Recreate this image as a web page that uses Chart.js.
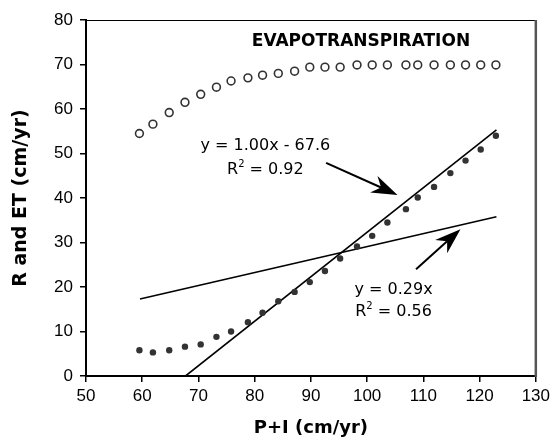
<!DOCTYPE html>
<html lang="en">
<head>
<meta charset="UTF-8" />
<title>Evapotranspiration vs P+I</title>
<script src="https://cdn.jsdelivr.net/npm/chart.js"></script>
<style>
  html, body { margin: 0; padding: 0; background: #fff; }
  #wrap { width: 554px; height: 439px; }
</style>
</head>
<body>
<div id="wrap"><canvas id="chart"></canvas></div>
<script>
// P+I (cm/yr) for each simulation point
const pi = [59.5, 61.9, 64.8, 67.6, 70.4, 73.2, 75.8, 78.8, 81.4, 84.2, 87.1, 89.8,
            92.5, 95.2, 98.2, 100.9, 103.6, 106.9, 109.0, 111.9, 114.8, 117.5, 120.2, 122.9];
// evapotranspiration (open circles)
const et = [54.5, 56.6, 59.2, 61.5, 63.3, 64.9, 66.3, 67.0, 67.6, 68.0, 68.5, 69.4,
            69.4, 69.4, 69.9, 69.9, 69.9, 69.9, 69.9, 69.9, 69.9, 69.9, 69.9, 69.9];
// recharge (filled dots)
const r = [5.8, 5.3, 5.8, 6.6, 7.1, 8.8, 10.0, 12.1, 14.2, 16.8, 18.9, 21.1,
           23.6, 26.4, 29.1, 31.5, 34.5, 37.5, 40.1, 42.5, 45.6, 48.4, 50.9, 54.0];
// fitted lines, end points
const fitSteep = [[67.7, 0], [123, 55.3]];
const fitFlat = [[59.6, 17.3], [123, 35.8]];
const xTicks = [50, 60, 70, 80, 90, 100, 110, 120, 130];
const yTicks = [0, 10, 20, 30, 40, 50, 60, 70, 80];

// annotations in data units
const heading = { text: 'EVAPOTRANSPIRATION', x: 98.9, y: 75.1 };
const equations = [
  { eq: 'y = 1.00x - 67.6', r2: '0.92', x: 81.9, y: 51.7, y2: 46.3 },
  { eq: 'y = 0.29x', r2: '0.56', x: 104.7, y: 19.3, y2: 14.4 }
];
const arrows = [
  { from: [92.7, 47.9], to: [105.4, 40.7] },
  { from: [108.7, 24.0], to: [116.6, 33.0] }
];

const toPts = (xs, ys) => xs.map((v, i) => ({ x: v, y: ys[i] }));
const pairPts = p => p.map(([x, y]) => ({ x, y }));

Chart.defaults.font.family = "'DejaVu Sans', sans-serif";
Chart.defaults.color = '#000';

function drawArrow(ctx, x0, y0, x1, y1) {
  const a = Math.atan2(y1 - y0, x1 - x0);
  const c = Math.cos(a), s = Math.sin(a);
  const len = 26, half = 9, notch = 18;
  ctx.beginPath();
  ctx.moveTo(x0, y0);
  ctx.lineTo(x1 - notch * c, y1 - notch * s);
  ctx.stroke();
  const bx = x1 - len * c, by = y1 - len * s;
  ctx.beginPath();
  ctx.moveTo(x1, y1);
  ctx.lineTo(bx - half * s, by + half * c);
  ctx.lineTo(x1 - notch * c, y1 - notch * s);
  ctx.lineTo(bx + half * s, by - half * c);
  ctx.closePath();
  ctx.fill();
}

function drawR2(ctx, value, cx, cy) {
  const big = '16px "DejaVu Sans"', small = '10px "DejaVu Sans"';
  const rest = ' = ' + value;
  ctx.font = big;
  const wR = ctx.measureText('R').width, wRest = ctx.measureText(rest).width;
  ctx.font = small;
  const w2 = ctx.measureText('2').width;
  let x = cx - (wR + w2 + wRest) / 2;
  ctx.textAlign = 'left';
  ctx.textBaseline = 'middle';
  ctx.font = big;
  ctx.fillText('R', x, cy);
  x += wR;
  ctx.font = small;
  ctx.fillText('2', x, cy - 6);
  x += w2;
  ctx.font = big;
  ctx.fillText(rest, x, cy);
}

const extras = {
  id: 'extras',
  afterDatasetsDraw(chart) {
    const { ctx, chartArea: area, scales: { x, y } } = chart;
    ctx.save();
    // top and right frame lines
    ctx.strokeStyle = '#000';
    ctx.lineWidth = 1;
    ctx.beginPath();
    ctx.moveTo(area.left, area.top + 0.5);
    ctx.lineTo(area.right, area.top + 0.5);
    ctx.stroke();
    ctx.strokeStyle = '#555';
    ctx.lineWidth = 2.5;
    ctx.beginPath();
    ctx.moveTo(area.right, area.top);
    ctx.lineTo(area.right, area.bottom + 1);
    ctx.stroke();

    ctx.fillStyle = '#000';
    ctx.textAlign = 'center';
    ctx.textBaseline = 'middle';
    ctx.font = 'bold 17px "DejaVu Sans"';
    ctx.fillText(heading.text, x.getPixelForValue(heading.x), y.getPixelForValue(heading.y));

    equations.forEach(e => {
      ctx.font = '16px "DejaVu Sans"';
      ctx.textAlign = 'center';
      ctx.fillText(e.eq, x.getPixelForValue(e.x), y.getPixelForValue(e.y));
      drawR2(ctx, e.r2, x.getPixelForValue(e.x), y.getPixelForValue(e.y2));
    });

    ctx.strokeStyle = '#000';
    ctx.lineWidth = 2;
    arrows.forEach(a => {
      drawArrow(ctx,
        x.getPixelForValue(a.from[0]), y.getPixelForValue(a.from[1]),
        x.getPixelForValue(a.to[0]), y.getPixelForValue(a.to[1]));
    });
    ctx.restore();
  }
};

const tickFont = { family: "'Liberation Sans', Arial, sans-serif", size: 17 };

new Chart(document.getElementById('chart'), {
  type: 'scatter',
  data: {
    datasets: [
      { label: 'ET', data: toPts(pi, et), pointRadius: 3.9, pointBackgroundColor: '#fff',
        pointBorderColor: '#333', pointBorderWidth: 1.6 },
      { label: 'R', data: toPts(pi, r), pointRadius: 3.2, pointBackgroundColor: '#333',
        pointBorderWidth: 0 },
      { label: 'fit 1', data: pairPts(fitSteep), showLine: true, borderColor: '#000',
        borderWidth: 1.6, pointRadius: 0 },
      { label: 'fit 2', data: pairPts(fitFlat), showLine: true, borderColor: '#000',
        borderWidth: 1.6, pointRadius: 0 }
    ]
  },
  options: {
    responsive: true,
    maintainAspectRatio: false,
    animation: false,
    layout: { padding: { top: 20, right: 16, left: 0, bottom: 0 } },
    plugins: { legend: { display: false }, tooltip: { enabled: false } },
    scales: {
      x: {
        type: 'linear', min: 50, max: 130,
        afterBuildTicks: s => { s.ticks = xTicks.map(v => ({ value: v })); },
        afterFit: s => { s.height = 63; },
        border: { color: '#000', width: 2 },
        grid: { drawOnChartArea: false, drawTicks: true, tickLength: 6, color: '#000', lineWidth: 1.5 },
        ticks: { font: tickFont, padding: 4, maxRotation: 0 },
        title: { display: true, text: 'P+I (cm/yr)', font: { size: 18, weight: 'bold', lineHeight: 1.2 },
                 padding: { top: 0, bottom: 0 } }
      },
      y: {
        type: 'linear', min: 0, max: 80,
        afterBuildTicks: s => { s.ticks = yTicks.map(v => ({ value: v })); },
        afterFit: s => { s.width = 86; },
        border: { color: '#000', width: 2 },
        grid: { drawOnChartArea: false, drawTicks: true, tickLength: 6, color: '#000', lineWidth: 1.5 },
        ticks: { font: tickFont, padding: 7 },
        title: { display: true, text: 'R and ET (cm/yr)', font: { size: 19, weight: 'bold', lineHeight: 1.2 },
                 padding: { top: 10, bottom: 0 } }
      }
    }
  },
  plugins: [extras]
});
</script>
</body>
</html>
